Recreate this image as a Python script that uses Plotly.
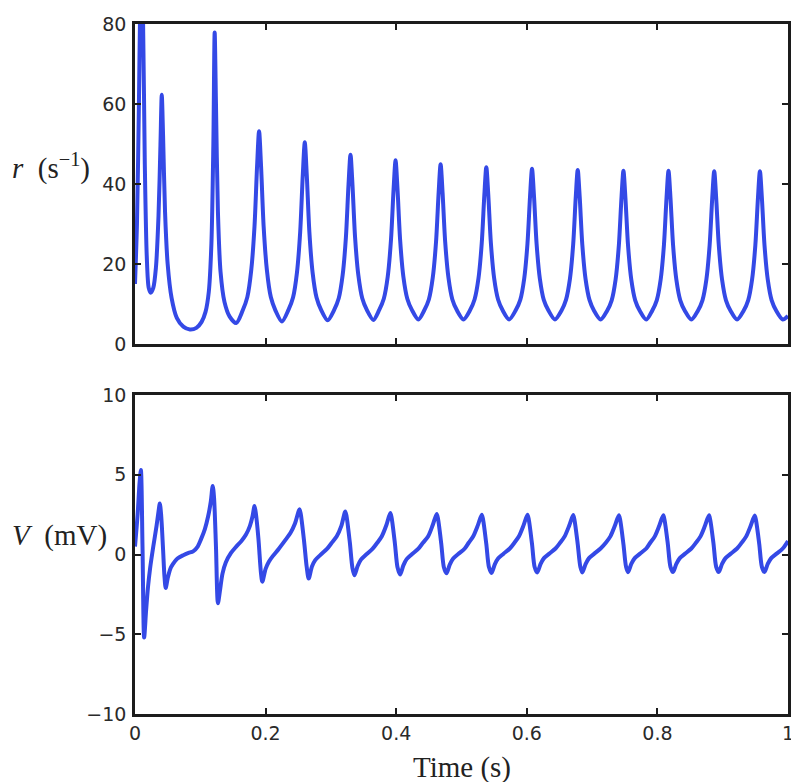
import plotly.graph_objects as go
from plotly.subplots import make_subplots

# firing rate r (1/s)
t_rate = [
    0.000, 0.003, 0.006, 0.008, 0.010, 0.012, 0.015, 0.018, 0.021, 0.024,
    0.028, 0.032, 0.036, 0.039, 0.041, 0.043, 0.046, 0.050, 0.056, 0.064,
    0.074, 0.084, 0.094, 0.102, 0.108, 0.113, 0.117, 0.120, 0.122, 0.124,
    0.127, 0.131, 0.137, 0.145, 0.155,
    0.165, 0.172, 0.178, 0.183, 0.187, 0.190, 0.193, 0.197, 0.202, 0.208, 0.215, 0.225,
    0.235, 0.242, 0.248, 0.253, 0.257, 0.260, 0.263, 0.267, 0.272, 0.278, 0.285, 0.295,
    0.305, 0.312, 0.318, 0.323, 0.327, 0.330, 0.333, 0.337, 0.342, 0.348, 0.355, 0.365,
    0.374, 0.381, 0.387, 0.392, 0.396, 0.399, 0.402, 0.406, 0.411, 0.417, 0.424, 0.434,
    0.443, 0.450, 0.456, 0.461, 0.465, 0.468, 0.471, 0.475, 0.480, 0.486, 0.493, 0.503,
    0.513, 0.520, 0.526, 0.531, 0.535, 0.538, 0.541, 0.545, 0.550, 0.556, 0.563, 0.573,
    0.583, 0.590, 0.596, 0.601, 0.605, 0.608, 0.611, 0.615, 0.620, 0.626, 0.633, 0.643,
    0.653, 0.660, 0.666, 0.671, 0.675, 0.678, 0.681, 0.685, 0.690, 0.696, 0.703, 0.713,
    0.723, 0.730, 0.736, 0.741, 0.745, 0.748, 0.751, 0.755, 0.760, 0.766, 0.773, 0.783,
    0.792, 0.799, 0.805, 0.810, 0.814, 0.817, 0.820, 0.824, 0.829, 0.835, 0.842, 0.852,
    0.862, 0.869, 0.875, 0.880, 0.884, 0.887, 0.890, 0.894, 0.899, 0.905, 0.912, 0.922,
    0.932, 0.939, 0.945, 0.950, 0.954, 0.957, 0.960, 0.964, 0.969, 0.975, 0.982, 0.992,
    1.000,
]
rate = [
    15.0, 30.0, 60.0, 85.0, 95.0, 85.0, 45.0, 22.0, 14.0, 12.8,
    14.0, 19.0, 32.0, 50.0, 62.3, 52.0, 33.0, 20.0, 11.5, 6.5,
    4.3, 3.6, 4.0, 5.5, 8.0, 13.0, 25.0, 50.0, 77.9, 60.0,
    33.0, 18.0, 10.5, 6.8, 5.2,
    8.4, 11.7, 18.4, 29.4, 44.6, 53.2, 44.6, 29.4, 18.4, 11.7, 8.4, 5.6,
    8.5, 11.6, 17.8, 28.1, 42.4, 50.4, 42.4, 28.1, 17.8, 11.6, 8.5, 5.9,
    8.5, 11.4, 17.2, 26.7, 39.9, 47.3, 39.9, 26.7, 17.2, 11.4, 8.5, 6.0,
    8.5, 11.3, 16.8, 26.0, 38.7, 45.9, 38.7, 26.0, 16.8, 11.3, 8.5, 6.1,
    8.4, 11.1, 16.6, 25.5, 37.9, 44.9, 37.9, 25.5, 16.6, 11.1, 8.4, 6.1,
    8.4, 11.1, 16.4, 25.2, 37.3, 44.2, 37.3, 25.2, 16.4, 11.1, 8.4, 6.1,
    8.4, 11.0, 16.3, 25.0, 37.0, 43.8, 37.0, 25.0, 16.3, 11.0, 8.4, 6.1,
    8.3, 11.0, 16.2, 24.8, 36.8, 43.5, 36.8, 24.8, 16.2, 11.0, 8.3, 6.1,
    8.3, 10.9, 16.1, 24.7, 36.6, 43.3, 36.6, 24.7, 16.1, 10.9, 8.3, 6.1,
    8.3, 10.9, 16.1, 24.7, 36.6, 43.3, 36.6, 24.7, 16.1, 10.9, 8.3, 6.1,
    8.3, 10.9, 16.1, 24.7, 36.5, 43.2, 36.5, 24.7, 16.1, 10.9, 8.3, 6.1,
    8.3, 10.9, 16.1, 24.7, 36.5, 43.2, 36.5, 24.7, 16.1, 10.9, 8.3, 6.1,
    7.0,
]

# membrane potential V (mV)
t_volt = [
    0.000, 0.004, 0.007, 0.009, 0.0115, 0.014, 0.017, 0.020, 0.023, 0.028,
    0.033, 0.036, 0.038, 0.040, 0.043, 0.045, 0.047, 0.050, 0.054, 0.058,
    0.065, 0.074, 0.082, 0.089, 0.096, 0.101, 0.107, 0.112, 0.116, 0.119,
    0.121, 0.124, 0.127, 0.130, 0.134, 0.139, 0.147, 0.155, 0.163, 0.170,
    0.176, 0.180, 0.183, 0.185, 0.189, 0.193,
    0.195, 0.200, 0.205, 0.211, 0.220, 0.231, 0.238, 0.245, 0.252, 0.254, 0.259, 0.263,
    0.266, 0.271, 0.276, 0.284, 0.294, 0.301, 0.309, 0.316, 0.322, 0.324, 0.329, 0.333,
    0.336, 0.341, 0.346, 0.354, 0.364, 0.371, 0.378, 0.385, 0.391, 0.393, 0.398, 0.402,
    0.406, 0.411, 0.416, 0.424, 0.434, 0.441, 0.449, 0.456, 0.462, 0.464, 0.469, 0.473,
    0.477, 0.482, 0.487, 0.495, 0.505, 0.511, 0.518, 0.525, 0.531, 0.533, 0.538, 0.542,
    0.546, 0.551, 0.556, 0.564, 0.574, 0.581, 0.588, 0.595, 0.601, 0.603, 0.608, 0.612,
    0.616, 0.621, 0.626, 0.634, 0.644, 0.651, 0.658, 0.665, 0.671, 0.673, 0.678, 0.682,
    0.685, 0.690, 0.695, 0.703, 0.713, 0.721, 0.728, 0.735, 0.741, 0.743, 0.748, 0.752,
    0.755, 0.760, 0.765, 0.773, 0.783, 0.789, 0.796, 0.803, 0.809, 0.811, 0.816, 0.820,
    0.824, 0.829, 0.834, 0.842, 0.852, 0.859, 0.866, 0.873, 0.879, 0.881, 0.886, 0.890,
    0.894, 0.899, 0.904, 0.912, 0.922, 0.929, 0.936, 0.943, 0.949, 0.951, 0.956, 0.960,
    0.964, 0.969, 0.974, 0.982, 0.992, 1.000,
]
volt = [
    0.5, 2.5, 4.5, 5.3, 0.5, -5.2, -3.5, -2.0, -0.9, 0.5,
    1.8, 2.7, 3.2, 2.5, 0.3, -1.3, -2.1, -1.5, -0.9, -0.6,
    -0.25, -0.04, 0.1, 0.2, 0.5, 0.95, 1.6, 2.4, 3.3, 4.3,
    3.6, 0.5, -3.05, -2.3, -1.2, -0.5, 0.1, 0.5, 0.85, 1.25,
    1.8, 2.4, 3.04, 2.6, 1.0, -1.2,
    -1.70, -0.90, -0.45, -0.10, 0.35, 0.95, 1.35, 1.95, 2.84, 2.50, 0.80, -0.80,
    -1.50, -0.75, -0.35, -0.02, 0.35, 0.72, 1.15, 1.80, 2.70, 2.40, 0.75, -0.85,
    -1.30, -0.72, -0.32, 0.00, 0.37, 0.74, 1.15, 1.85, 2.60, 2.30, 0.70, -0.80,
    -1.25, -0.68, -0.29, 0.02, 0.37, 0.74, 1.15, 1.85, 2.55, 2.25, 0.68, -0.80,
    -1.18, -0.63, -0.26, 0.03, 0.38, 0.74, 1.15, 1.83, 2.50, 2.20, 0.66, -0.78,
    -1.15, -0.61, -0.25, 0.04, 0.38, 0.74, 1.15, 1.83, 2.50, 2.20, 0.66, -0.78,
    -1.13, -0.60, -0.24, 0.04, 0.38, 0.74, 1.14, 1.82, 2.48, 2.18, 0.65, -0.77,
    -1.12, -0.60, -0.24, 0.04, 0.38, 0.74, 1.14, 1.82, 2.47, 2.17, 0.65, -0.77,
    -1.11, -0.59, -0.24, 0.04, 0.38, 0.74, 1.14, 1.82, 2.46, 2.16, 0.65, -0.77,
    -1.10, -0.59, -0.24, 0.04, 0.38, 0.74, 1.14, 1.82, 2.46, 2.16, 0.65, -0.77,
    -1.10, -0.59, -0.24, 0.04, 0.38, 0.74, 1.14, 1.82, 2.45, 2.15, 0.65, -0.77,
    -1.10, -0.59, -0.24, 0.04, 0.38, 0.85,
]

x_ticks = [0, 0.2, 0.4, 0.6, 0.8, 1]
x_labels = ["0", "0.2", "0.4", "0.6", "0.8", "1"]
r_ticks = [0, 20, 40, 60, 80]
v_ticks = [-10, -5, 0, 5, 10]

LINE = "#3449E6"
AXIS = "#1c1c1c"
TICK_FONT = dict(family="DejaVu Sans", size=19, color="#2a2a2a")
LABEL_FONT = dict(family="Liberation Serif", size=29, color="#222222")

# page body has an 8px margin, so the figure is sized to fit inside it
W, H = 791, 774
ML, MR, MT, MB = 127, 7, 5, 68
PW, PH = W - ML - MR, H - MT - MB

fig = make_subplots(rows=2, cols=1)

fig.add_trace(go.Scatter(x=t_rate, y=rate, mode="lines",
                         line=dict(color=LINE, width=4, shape="spline", smoothing=0.8),
                         showlegend=False), row=1, col=1)
fig.add_trace(go.Scatter(x=t_volt, y=volt, mode="lines",
                         line=dict(color=LINE, width=4, shape="spline", smoothing=0.8),
                         showlegend=False), row=2, col=1)

axis_style = dict(showline=True, linecolor=AXIS, linewidth=2.5, mirror="ticks",
                  ticks="inside", ticklen=6, tickwidth=2, tickcolor=AXIS,
                  showgrid=False, zeroline=False, tickfont=TICK_FONT)

fig.update_xaxes(range=[0, 1], tickvals=x_ticks, ticktext=x_labels, **axis_style)
fig.update_xaxes(showticklabels=False, row=1, col=1)
fig.update_yaxes(ticklabelstandoff=2, **axis_style)
fig.update_yaxes(range=[0, 80], tickvals=r_ticks, row=1, col=1)
fig.update_yaxes(range=[-10, 10], tickvals=v_ticks, row=2, col=1)

fig.update_layout(
    width=W, height=H,
    margin=dict(l=ML, r=MR, t=MT, b=MB),
    plot_bgcolor="white", paper_bgcolor="white",
    yaxis=dict(domain=[0.5364, 1.0]),
    yaxis2=dict(domain=[0.0, 0.4622]),
)

# axis labels (LaTeX-like, horizontal)
fig.add_annotation(text="<i>r</i>  (s<sup>−1</sup>)", xref="paper", yref="paper",
                   x=-(ML - 1) / PW, y=(PH + MT - 150) / PH, xanchor="left", yanchor="middle",
                   showarrow=False, font=LABEL_FONT)
fig.add_annotation(text="<i>V</i>  (mV)", xref="paper", yref="paper",
                   x=-(ML - 1) / PW, y=(PH + MT - 525) / PH, xanchor="left", yanchor="middle",
                   showarrow=False, font=LABEL_FONT)
fig.add_annotation(text="Time (s)", xref="paper", yref="paper",
                   x=0.5, y=(PH + MT - 760) / PH, xanchor="center", yanchor="middle",
                   showarrow=False, font=LABEL_FONT)

fig.write_html("out.html")
